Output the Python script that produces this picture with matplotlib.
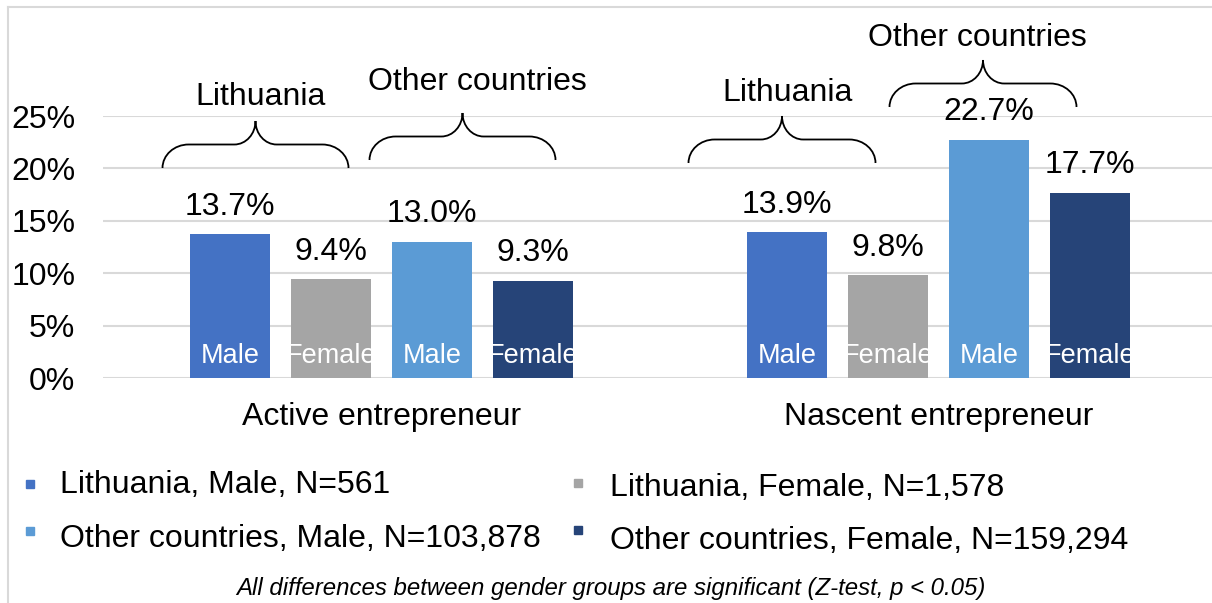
import matplotlib
matplotlib.use('Agg')
import numpy as np
from matplotlib import pyplot as plt
from matplotlib.path import Path
from matplotlib.patches import PathPatch, Rectangle
from matplotlib.lines import Line2D

plt.rcParams['font.family'] = ['Liberation Sans', 'DejaVu Sans']

# data
categories = ['Active entrepreneur', 'Nascent entrepreneur']
series_names = ['Lithuania, Male, N=561', 'Lithuania, Female, N=1,578',
                'Other countries, Male, N=103,878', 'Other countries, Female, N=159,294']
bar_tags = ['Male', 'Female', 'Male', 'Female']
lith_male = [13.7, 13.9]
lith_female = [9.4, 9.8]
other_male = [13.0, 22.7]
other_female = [9.3, 17.7]
values = [lith_male, lith_female, other_male, other_female]
colors = ['#4472C4', '#A5A5A5', '#5B9BD5', '#264478']
yticks = [0, 5, 10, 15, 20, 25]
footnote = 'All differences between gender groups are significant (Z-test, p < 0.05)'

W, H = 1212, 603
FS = 23
fig = plt.figure(figsize=(W / 100, H / 100), dpi=100)
ax = fig.add_axes([103 / W, 1 - 378 / H, 1114 / W, 262 / H])

x = np.arange(len(categories))
step = 0.181
width = 0.144
for i, (vals, col, tag) in enumerate(zip(values, colors, bar_tags)):
    pos = x + (i - 1.5) * step
    bars = ax.bar(pos, vals, width, color=col, zorder=2)
    for b, p, v in zip(bars, pos, vals):
        ax.annotate('%.1f%%' % v, (p, v), xytext=(0, 20), textcoords='offset points',
                    ha='center', va='center', fontsize=FS)
        t = ax.text(p, 2.1, tag, ha='center', va='center', color='white', fontsize=19.5, zorder=3)
        t.set_clip_path(b)

ax.set_xlim(-0.5, 1.5)
ax.set_ylim(0, 25)
ax.set_yticks(yticks)
ax.set_yticklabels(['%d%%' % t for t in yticks], fontsize=FS)
ax.set_xticks(x)
ax.set_xticklabels(categories, fontsize=FS)
ax.tick_params(axis='y', length=0, pad=20)
ax.tick_params(axis='x', length=0, pad=17)
ax.grid(axis='y', color='#D9D9D9', linewidth=1.5)
ax.set_axisbelow(True)
for s in ax.spines.values():
    s.set_visible(False)


def px2x(px):
    return (px - 381) / 557.0


def px2y(py):
    return (378 - py) / 10.48


def brace(x0, x1, yb, yt):
    # curly brace opening downward, in data coords
    xc = (x0 + x1) / 2
    yh = (yb + yt) / 2
    r = 0.047
    r2 = 0.038
    k = 0.552
    verts = [(x0, yb), (x0, yb + k * (yh - yb)), (x0 + r - k * r, yh), (x0 + r, yh),
             (xc - r2, yh),
             (xc - r2 + k * r2, yh), (xc, yt - k * (yt - yh)), (xc, yt),
             (xc, yt - k * (yt - yh)), (xc + r2 - k * r2, yh), (xc + r2, yh),
             (x1 - r, yh),
             (x1 - r + k * r, yh), (x1, yb + k * (yh - yb)), (x1, yb)]
    codes = [Path.MOVETO, Path.CURVE4, Path.CURVE4, Path.CURVE4, Path.LINETO,
             Path.CURVE4, Path.CURVE4, Path.CURVE4,
             Path.CURVE4, Path.CURVE4, Path.CURVE4, Path.LINETO,
             Path.CURVE4, Path.CURVE4, Path.CURVE4]
    ax.add_patch(PathPatch(Path(verts, codes), fill=False, lw=1.3, ec='black', clip_on=False))


# group braces (pixel layout)
brace_px = [(162, 348, 168), (369, 555, 160), (688, 875, 163), (889, 1076, 107)]
label_px = [(260, 97, 'Lithuania'), (477, 82, 'Other countries'),
            (787, 93, 'Lithuania'), (977, 38, 'Other countries')]
for (a, b, yb) in brace_px:
    brace(px2x(a), px2x(b), px2y(yb), px2y(yb - 47))
for (lx, ly, txt) in label_px:
    ax.text(px2x(lx), px2y(ly), txt, ha='center', va='center', fontsize=FS, clip_on=False)

# legend
leg_marker = [(30, 484), (578, 483), (30, 531), (578, 530)]
leg_text = [(60, 493), (610, 496), (60, 547), (610, 549)]
for (mx, my), (tx, ty), name, col in zip(leg_marker, leg_text, series_names, colors):
    fig.patches.append(Rectangle(((mx - 4) / W, 1 - (my + 4) / H), 8 / W, 8 / H,
                                 transform=fig.transFigure, color=col))
    fig.text(tx / W, 1 - ty / H, name, fontsize=FS, va='baseline', ha='left')

fig.text(611 / W, 1 - 588 / H, footnote, fontsize=17.3, style='italic', ha='center', va='center')

# outer frame
fig.add_artist(Line2D([8 / W, 1], [1 - 7 / H, 1 - 7 / H], transform=fig.transFigure, color='#D9D9D9', lw=1.5))
fig.add_artist(Line2D([8 / W, 8 / W], [0, 1 - 7 / H], transform=fig.transFigure, color='#D9D9D9', lw=1.5))

fig.savefig('out.png', dpi=100)
